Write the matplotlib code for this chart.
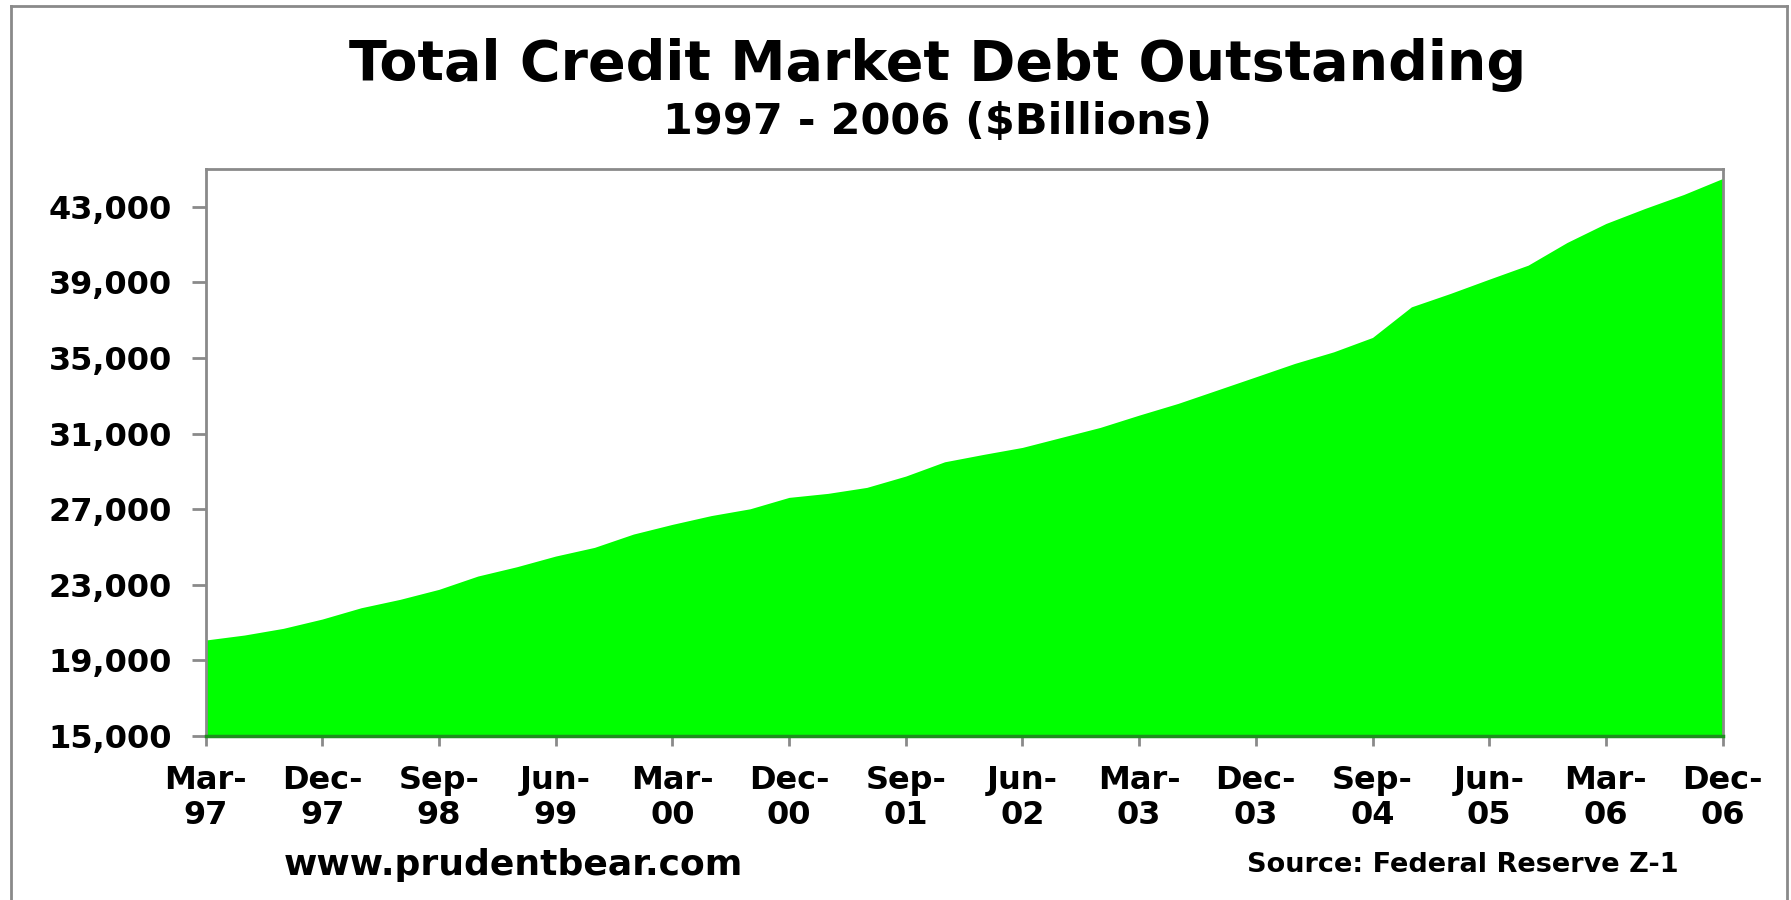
import numpy as np
import matplotlib.pyplot as plt
from matplotlib.lines import Line2D

# valeurs trimestrielles Mar-97 .. Dec-06 ($ milliards)
dette = [20073, 20338, 20692, 21184, 21782, 22226, 22755, 23459, 23951, 24517,
         24977, 25681, 26194, 26659, 27019, 27622, 27834, 28151, 28749, 29505,
         29897, 30267, 30796, 31325, 31976, 32595, 33298, 34002, 34711, 35324,
         36086, 37705, 38414, 39170, 39911, 41111, 42117, 42910, 43651, 44497]

etiquettes = ["Mar-\n97", "Dec-\n97", "Sep-\n98", "Jun-\n99", "Mar-\n00",
              "Dec-\n00", "Sep-\n01", "Jun-\n02", "Mar-\n03", "Dec-\n03",
              "Sep-\n04", "Jun-\n05", "Mar-\n06", "Dec-\n06"]

graduations_y = [15000, 19000, 23000, 27000, 31000, 35000, 39000, 43000]

plt.rcParams['font.family'] = ['DejaVu Sans']
plt.rcParams['font.weight'] = 'bold'

W, H = 1791, 900
fig = plt.figure(figsize=(W / 100, H / 100), dpi=100)
ax = fig.add_axes([205.5 / W, 1 - 735.9 / H, (1722.6 - 205.5) / W, (735.9 - 169) / H])

x = np.arange(len(dette))
ax.fill_between(x, 15000, dette, color='#00ff00', linewidth=0)

ax.set_xlim(0, len(dette) - 1)
ax.set_ylim(15000, 45000)

ax.set_yticks(graduations_y)
ax.set_yticklabels(["{:,}".format(v) for v in graduations_y])
ax.set_xticks(range(0, len(dette), 3))
ax.set_xticklabels(etiquettes, linespacing=1.15)

ax.tick_params(axis='y', direction='out', length=10, width=2, color='#8a8a8a',
               pad=14, labelsize=23)
ax.tick_params(axis='x', direction='out', length=7, width=2, color='#8a8a8a',
               pad=14, labelsize=23)

for cote in ['left', 'top', 'right']:
    ax.spines[cote].set_color('#8a8a8a')
    ax.spines[cote].set_linewidth(2)
ax.spines['bottom'].set_color('#1f8f1f')
ax.spines['bottom'].set_linewidth(2.5)

# titres
fig.text(938 / W, 1 - 65 / H, "Total Credit Market Debt Outstanding",
         ha='center', va='center', fontsize=40, fontweight='bold')
fig.text(938 / W, 1 - 122 / H, "1997 - 2006 ($Billions)",
         ha='center', va='center', fontsize=31, fontweight='bold')
fig.text(513 / W, 1 - 865 / H, "www.prudentbear.com",
         ha='center', va='center', fontsize=26, fontweight='bold')
fig.text(1463 / W, 1 - 865 / H, "Source: Federal Reserve Z-1",
         ha='center', va='center', fontsize=19.5, fontweight='bold')

# cadre gris autour de l'image
gauche, droite, haut = 11 / W, 1787 / W, 1 - 6 / H
for xs, ys in [([gauche, gauche], [0, haut]), ([gauche, droite], [haut, haut]),
               ([droite, droite], [haut, 0])]:
    fig.add_artist(Line2D(xs, ys, color='#8a8a8a', linewidth=2))

fig.savefig('out.png', dpi=100, facecolor='white')
